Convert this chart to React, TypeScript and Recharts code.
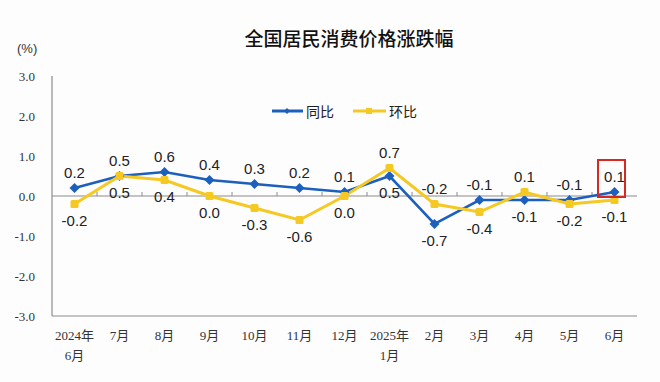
import React from 'react';
import { LineChart, Line, XAxis, YAxis, ReferenceLine, LabelList } from 'recharts';

// months shown on the x axis (two lines where needed)
const months = ['2024年\n6月', '7月', '8月', '9月', '10月', '11月', '12月', '2025年\n1月', '2月', '3月', '4月', '5月', '6月'];
const yoy = [0.2, 0.5, 0.6, 0.4, 0.3, 0.2, 0.1, 0.5, -0.7, -0.1, -0.1, -0.1, 0.1];
const mom = [-0.2, 0.5, 0.4, 0.0, -0.3, -0.6, 0.0, 0.7, -0.2, -0.4, 0.1, -0.2, -0.1];
// 1 = label above the point, 0 = below
const yoyAbove = [1, 1, 1, 1, 1, 1, 1, 0, 0, 1, 0, 1, 1];
const momAbove = [0, 0, 0, 0, 0, 0, 0, 1, 1, 0, 1, 0, 0];
const yTicks = [-3, -2, -1, 0, 1, 2, 3];

const BLUE = '#1c5fbd';
const YELLOW = '#f5c822';
const GRID = '#8c8c8c';
const SERIF = '"Liberation Serif", "Noto Sans CJK SC", serif';
const SANS = '"Liberation Sans", Arial, sans-serif';

const data = months.map((m, i) => ({ month: m, yoy: yoy[i], mom: mom[i] }));

const Diamond = (props: any) => {
  const { cx, cy } = props;
  if (cx == null || cy == null) return null;
  return <path d={`M${cx},${cy - 5}L${cx + 5},${cy}L${cx},${cy + 5}L${cx - 5},${cy}Z`} fill={BLUE} />;
};

const Square = (props: any) => {
  const { cx, cy } = props;
  if (cx == null || cy == null) return null;
  return <rect x={cx - 4} y={cy - 4} width={8} height={8} rx={1.5} fill={YELLOW} />;
};

const makeLabel = (above: number[]) => (props: any) => {
  const { x, y, value, index } = props;
  const up = above[index] === 1;
  return (
    <text
      x={x}
      y={up ? y - 16 : y + 16}
      textAnchor="middle"
      dominantBaseline="central"
      fontFamily={SANS}
      fontSize={15}
      fill="#222"
    >
      {Number(value).toFixed(1)}
    </text>
  );
};

const MonthTick = (props: any) => {
  const { x, payload } = props;
  const lines = String(payload.value).split('\n');
  return (
    <g>
      {lines.map((l, i) => (
        <text key={i} x={x} y={335 + i * 20} textAnchor="middle" dominantBaseline="central"
          fontFamily={SERIF} fontSize={13} fill="#333">
          {l}
        </text>
      ))}
    </g>
  );
};

// zero line with small marks at the category boundaries
const ZeroLine = (props: any) => {
  const { x1, x2, y1 } = props;
  const step = (x2 - x1) / months.length;
  return (
    <g>
      <line x1={x1} x2={x2} y1={y1} y2={y1} stroke={GRID} strokeWidth={1.2} />
      {months.slice(1).map((_, i) => (
        <line key={i} x1={x1 + step * (i + 1)} x2={x1 + step * (i + 1)} y1={y1} y2={y1 - 4} stroke={GRID} />
      ))}
    </g>
  );
};

const LegendBox = () => (
  <svg width={200} height={20} style={{ position: 'absolute', left: 270, top: 101 }}>
    <line x1={2} x2={33} y1={10} y2={10} stroke={BLUE} strokeWidth={3} />
    <path d="M17,7L20,10L17,13L14,10Z" fill={BLUE} />
    <text x={36} y={10} dominantBaseline="central" fontFamily='"Noto Sans CJK SC", sans-serif' fontSize={14} fill="#222">同比</text>
    <line x1={83} x2={116} y1={10} y2={10} stroke={YELLOW} strokeWidth={3} />
    <rect x={96} y={7} width={6} height={6} fill={YELLOW} />
    <text x={119} y={10} dominantBaseline="central" fontFamily='"Noto Sans CJK SC", sans-serif' fontSize={14} fill="#222">环比</text>
  </svg>
);

const App: React.FC = () => {
  return (
    <div style={{ position: 'absolute', left: 0, top: 0, width: 660, height: 382, background: '#fdfdfe' }}>
      <div style={{ position: 'absolute', left: 0, top: 24, width: 698, textAlign: 'center', fontFamily: '"Noto Sans CJK SC", sans-serif', fontSize: 19, fontWeight: 500, color: '#111' }}>
        全国居民消费价格涨跌幅
      </div>
      <div style={{ position: 'absolute', left: 17, top: 41, fontFamily: SANS, fontSize: 13, color: '#333' }}>(%)</div>
      <LineChart width={660} height={382} data={data} margin={{ top: 76, right: 23, bottom: 0, left: 0 }}>
        <ReferenceLine y={0} shape={ZeroLine} ifOverflow="visible" />
        <XAxis
          dataKey="month"
          axisLine={{ stroke: GRID, strokeWidth: 1.2 }}
          tickLine={false}
          tick={MonthTick}
          interval={0}
          height={66}
          padding={{ left: 22.5, right: 22.5 }}
        />
        <XAxis xAxisId="top" orientation="top" dataKey="month" height={0} tick={false} tickLine={false}
          axisLine={{ stroke: GRID, strokeWidth: 1.2 }} padding={{ left: 22.5, right: 22.5 }} />
        <YAxis
          domain={[-3, 3]}
          ticks={yTicks}
          width={52}
          axisLine={{ stroke: GRID, strokeWidth: 1.2 }}
          tickLine={false}
          tickMargin={11}
          tickFormatter={(v: number) => v.toFixed(1)}
          tick={{ fontFamily: SERIF, fontSize: 13, fill: '#333' }}
        />
        <YAxis yAxisId="right" orientation="right" domain={[-3, 3]} width={0} tick={false} tickLine={false}
          axisLine={{ stroke: GRID, strokeWidth: 1.2 }} />
        <Line dataKey="yoy" name="同比" stroke={BLUE} strokeWidth={2.6} dot={Diamond} activeDot={false} isAnimationActive={false}>
          <LabelList dataKey="yoy" content={makeLabel(yoyAbove)} />
        </Line>
        <Line dataKey="mom" name="环比" stroke={YELLOW} strokeWidth={3} dot={Square} activeDot={false} isAnimationActive={false}>
          <LabelList dataKey="mom" content={makeLabel(momAbove)} />
        </Line>
      </LineChart>
      <LegendBox />
      <div style={{ position: 'absolute', left: 597, top: 159, width: 29, height: 39, border: '2.5px solid #d42a22', boxSizing: 'border-box', pointerEvents: 'none' }} />
    </div>
  );
};

export default App;
